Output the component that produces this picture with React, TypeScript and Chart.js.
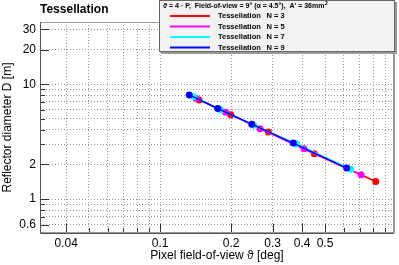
import React, { useEffect, useRef } from "react";
import { Chart, registerables } from "chart.js";

Chart.register(...registerables);

const SERIES_LABELS = ["Tessellation", "Tessellation", "Tessellation", "Tessellation"];
const SERIES_N = ["N = 3", "N = 5", "N = 7", "N = 9"];
const SERIES_COLORS = ["#ff0000", "#ff00ff", "#00ffff", "#0000ff"];

const X_N3 = [0.1463, 0.1994, 0.2876, 0.4508, 0.82];
const Y_N3 = [7.3, 5.41, 3.83, 2.48, 1.42];
const X_N5 = [0.142, 0.1898, 0.2653, 0.4074, 0.711];
const Y_N5 = [7.55, 5.71, 4.09, 2.74, 1.63];
const X_N7 = [0.139, 0.1808, 0.25, 0.3796, 0.643];
const Y_N7 = [7.78, 5.98, 4.4, 3.01, 1.82];
const X_N9 = [0.133, 0.1756, 0.2447, 0.367, 0.618];
const Y_N9 = [8.07, 6.14, 4.49, 3.07, 1.86];

const X_GRID = [0.04, 0.05, 0.06, 0.07, 0.08, 0.09, 0.1, 0.2, 0.3, 0.4, 0.5, 0.6, 0.7, 0.8, 0.9];
const X_LABELS = [0.04, 0.1, 0.2, 0.3, 0.4, 0.5];
const Y_GRID = [0.6, 0.7, 0.8, 0.9, 1, 2, 3, 4, 5, 6, 7, 8, 9, 10, 20, 30];
const Y_LABELS = [0.6, 1, 2, 10, 20, 30];

const TITLE = "Tessellation";
const X_TITLE = "Pixel field-of-view \u03d1 [deg]";
const Y_TITLE = "Reflector diameter D [m]";
const LEGEND_HEADER = "\u03d1 = 4 \u00b7 P,  Field-of-view = 9\u00b0 (\u03b1 = 4.5\u00b0),  A' = 36mm";

const FONT = "'Liberation Sans', Arial, sans-serif";

const near = (a: number, list: number[]) => list.some((v) => Math.abs(v - a) < 1e-9);

const decorPlugin = {
  id: "decor",
  beforeDatasetsDraw(chart: any) {
    const { ctx, chartArea: a, scales } = chart;
    ctx.save();
    ctx.strokeStyle = "#333";
    ctx.lineWidth = 1;
    Y_GRID.forEach((v) => {
      const y = Math.round(scales.y.getPixelForValue(v)) + 0.5;
      const len = near(v, Y_LABELS) ? 9 : 5;
      ctx.beginPath();
      ctx.moveTo(a.left, y);
      ctx.lineTo(a.left + len, y);
      ctx.stroke();
    });
    X_GRID.forEach((v) => {
      const x = Math.round(scales.x.getPixelForValue(v)) + 0.5;
      const len = near(v, X_LABELS) ? 9 : 5;
      ctx.beginPath();
      ctx.moveTo(x, a.bottom);
      ctx.lineTo(x, a.bottom - len);
      ctx.stroke();
    });
    ctx.strokeStyle = "#999";
    ctx.lineWidth = 1;
    ctx.strokeRect(a.left + 0.5, a.top + 0.5, a.right - a.left - 1, a.bottom - a.top - 1);
    ctx.fillStyle = "#999";
    ctx.fillRect(a.right - 1, a.top, 2, a.bottom - a.top);
    ctx.strokeStyle = "#555";
    ctx.beginPath();
    ctx.moveTo(a.left + 0.5, a.top);
    ctx.lineTo(a.left + 0.5, a.bottom + 0.5);
    ctx.lineTo(a.right, a.bottom + 0.5);
    ctx.stroke();
    ctx.restore();
  },
  afterDraw(chart: any) {
    const { ctx, chartArea: a } = chart;
    ctx.save();
    ctx.fillStyle = "#000";
    ctx.font = `bold 12px ${FONT}`;
    ctx.textAlign = "left";
    ctx.textBaseline = "middle";
    ctx.fillText(TITLE, 40, 10);
    ctx.font = `12px ${FONT}`;
    ctx.textAlign = "center";
    ctx.fillText(X_TITLE, (a.left + a.right) / 2, 256);
    ctx.save();
    ctx.translate(8, (a.top + a.bottom) / 2);
    ctx.rotate(-Math.PI / 2);
    ctx.fillText(Y_TITLE, 0, 0);
    ctx.restore();

    const bx = 159, by = 0, bw = 236, bh = 52;
    ctx.fillStyle = "#999";
    ctx.fillRect(bx + 2, by + 2, bw, bh);
    ctx.fillStyle = "#f2f2f2";
    ctx.fillRect(bx, by, bw, bh);
    ctx.strokeStyle = "#666";
    ctx.lineWidth = 1;
    ctx.strokeRect(bx + 0.5, by + 0.5, bw - 1, bh - 1);

    ctx.fillStyle = "#000";
    ctx.textAlign = "left";
    ctx.textBaseline = "middle";
    ctx.font = `bold 7px ${FONT}`;
    ctx.fillText(LEGEND_HEADER, 163, 6);
    const hw = ctx.measureText(LEGEND_HEADER).width;
    ctx.font = `bold 5px ${FONT}`;
    ctx.fillText("2", 163 + hw + 0.5, 3.5);

    const rows = [16, 26.5, 37, 47.5];
    chart.data.datasets.forEach((ds: any, i: number) => {
      const y = rows[i];
      ctx.strokeStyle = ds.borderColor;
      ctx.lineWidth = 2;
      ctx.beginPath();
      ctx.moveTo(170, y);
      ctx.lineTo(210, y);
      ctx.stroke();
      ctx.fillStyle = "#000";
      ctx.font = `bold 7.5px ${FONT}`;
      ctx.fillText(SERIES_LABELS[i], 218, y);
      ctx.fillText(SERIES_N[i], 266.5, y);
    });
    ctx.restore();
  },
};

function makeData(xs: number[], ys: number[]) {
  return xs.map((x, i) => ({ x, y: ys[i] }));
}

export default function App() {
  const ref = useRef<HTMLCanvasElement | null>(null);
  useEffect(() => {
    if (!ref.current) return;
    const sets = [
      [X_N3, Y_N3],
      [X_N5, Y_N5],
      [X_N7, Y_N7],
      [X_N9, Y_N9],
    ];
    const chart = new Chart(ref.current, {
      type: "scatter",
      data: {
        datasets: sets.map(([xs, ys], i) => ({
          label: `${SERIES_LABELS[i]} ${SERIES_N[i]}`,
          data: makeData(xs, ys),
          showLine: true,
          borderColor: SERIES_COLORS[i],
          backgroundColor: SERIES_COLORS[i],
          borderWidth: 1.5,
          pointRadius: 3.5,
          pointBorderWidth: 0,
          order: 3 - i,
        })),
      },
      options: {
        animation: false,
        responsive: false,
        maintainAspectRatio: false,
        layout: { padding: { top: 22, right: 5, left: 0, bottom: 0 } },
        plugins: { legend: { display: false }, tooltip: { enabled: false }, title: { display: false } },
        scales: {
          x: {
            type: "logarithmic",
            min: 0.031,
            max: 0.98,
            afterFit: (s: any) => {
              s.height = 32;
            },
            afterBuildTicks: (s: any) => {
              s.ticks = X_GRID.map((v) => ({ value: v }));
            },
            ticks: {
              autoSkip: false,
              maxRotation: 0,
              padding: 3,
              color: "#000",
              font: { family: FONT, size: 12 },
              callback: (v: any) => (near(Number(v), X_LABELS) ? String(v) : ""),
            },
            grid: { color: "#999", lineWidth: 1, drawTicks: false },
            border: { display: false, dash: [1, 2] },
          },
          y: {
            type: "logarithmic",
            min: 0.506,
            max: 34.8,
            afterFit: (s: any) => {
              s.width = 40;
            },
            afterBuildTicks: (s: any) => {
              s.ticks = Y_GRID.map((v) => ({ value: v }));
            },
            ticks: {
              autoSkip: false,
              padding: 4,
              color: "#000",
              font: { family: FONT, size: 12 },
              callback: (v: any) => (near(Number(v), Y_LABELS) ? String(v) : ""),
            },
            grid: { color: "#999", lineWidth: 1, drawTicks: false },
            border: { display: false, dash: [1, 2] },
          },
        },
      },
      plugins: [decorPlugin],
    });
    return () => chart.destroy();
  }, []);
  return (
    <div style={{ position: "absolute", left: 0, top: 0, width: 399, height: 265 }}>
      <canvas ref={ref} width={399} height={265} style={{ display: "block" }} />
    </div>
  );
}
